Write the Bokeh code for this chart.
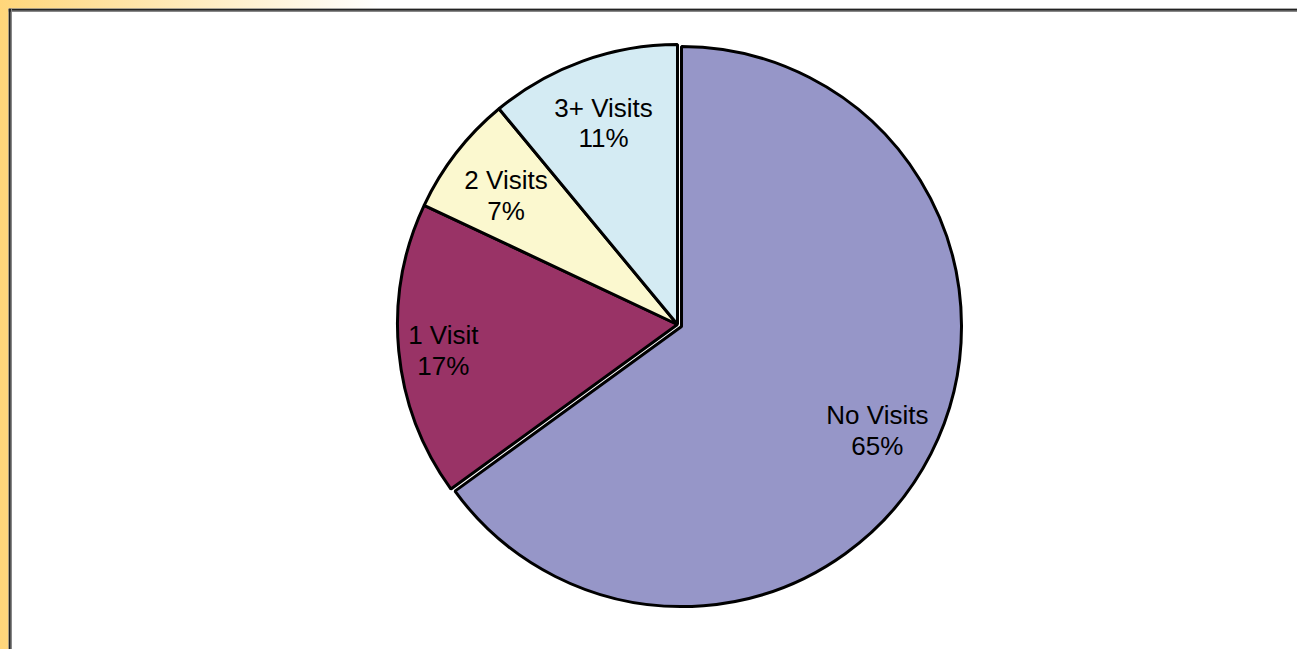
import numpy as np
from bokeh.plotting import figure
from bokeh.models import Range1d, Span, GlobalInlineStyleSheet, ColumnDataSource
from bokeh.core.properties import value
from bokeh.embed import file_html
from bokeh.resources import INLINE

# ---- data ----
categories = ["No Visits", "1 Visit", "2 Visits", "3+ Visits"]
percents = [65, 17, 7, 11]

# ---- style ----
colors = ["#9696C8", "#993366", "#FBF8CF", "#D4EBF3"]
explode = [4.5, 0, 0, 0]          # px offset of each slice along its bisector
label_frac = [0.785, 0.84, 0.775, 0.78]  # label distance as fraction of radius

W, H = 1289, 641
CX, CY = 669, 325   # pie centre (figure pixels, y up)
R = 280

vals = np.array(percents, dtype=float)
frac = vals / vals.sum()
cum = np.concatenate([[0], np.cumsum(frac)])
# clockwise from 12 o'clock
a_start = np.pi / 2 - 2 * np.pi * cum[:-1]
a_end = np.pi / 2 - 2 * np.pi * cum[1:]
mid = (a_start + a_end) / 2

xs = CX + np.array(explode) * np.cos(mid)
ys = CY + np.array(explode) * np.sin(mid)

src = ColumnDataSource(dict(
    x=xs, y=ys, start=a_end, end=a_start, color=colors, cat=categories,
))

lx = xs + np.array(label_frac) * R * np.cos(mid)
ly = ys + np.array(label_frac) * R * np.sin(mid)
labels = [f"{c}\n{p}%" for c, p in zip(categories, percents)]
lsrc = ColumnDataSource(dict(x=lx, y=ly, text=labels))

p = figure(width=W, height=H, output_backend="svg", toolbar_location=None,
           x_range=Range1d(0, W), y_range=Range1d(0, H),
           x_axis_type=None, y_axis_type=None, min_border=0)
p.grid.visible = False
p.outline_line_color = None
p.background_fill_color = "white"
p.border_fill_color = "white"

p.wedge(x="x", y="y", radius=R, start_angle="start", end_angle="end",
        fill_color="color", line_color="black", line_width=3, source=src)

p.text(x="x", y="y", text="text", source=lsrc, text_align="center",
       text_baseline="middle", text_font=value("Liberation Sans"),
       text_font_size="26px", text_color="black", text_line_height=1.03,
       y_offset=4)

# frame lines (top and left)
p.add_layout(Span(location=H - 1, dimension="width", line_color="#222222", line_width=2.5))
p.add_layout(Span(location=H - 3, dimension="width", line_color="#888888", line_width=1))
p.add_layout(Span(location=1, dimension="height", line_color="#222222", line_width=2.5))
p.add_layout(Span(location=3, dimension="height", line_color="#888888", line_width=1))

p.stylesheets = [GlobalInlineStyleSheet(
    css="body { background: linear-gradient(to right, #FFD67A 0px, #FFFFFF 380px) !important; "
        "padding: 8px 0 0 8px !important; box-sizing: border-box !important; }")]

open("out.html", "w").write(file_html(p, INLINE))
